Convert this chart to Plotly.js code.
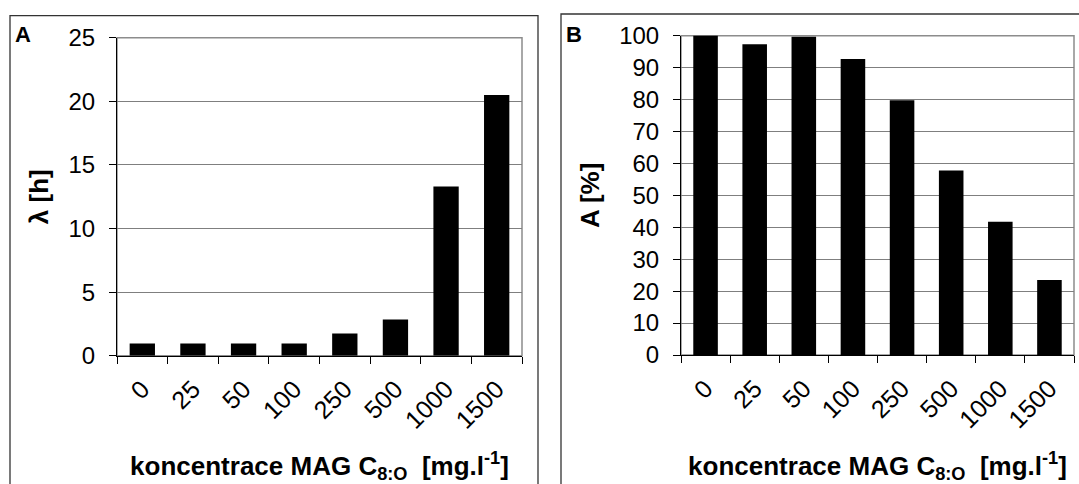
<!DOCTYPE html>
<html>
<head>
<meta charset="utf-8">
<script src="https://cdn.plot.ly/plotly-3.0.1.min.js"></script>
<style>
html,body{margin:0;padding:0;background:#fff;}
#chart{width:1079px;height:484px;}
</style>
</head>
<body>
<div id="chart"></div>
<script>
const categories = ["0", "25", "50", "100", "250", "500", "1000", "1500"];
const lagValues = [0.95, 0.95, 0.95, 0.95, 1.75, 2.85, 13.3, 20.5];
const activityValues = [100.4, 97.3, 99.7, 92.7, 79.8, 57.8, 41.7, 23.5];
const yTitleA = "λ [h]";
const yTitleB = "A [%]";
const xTitle = "koncentrace MAG C<sub>8:O</sub>&nbsp; [mg.l<sup>-1</sup>]";
const panelLabels = ["A", "B"];

const W = 1079, H = 484;
const px = v => v / W;
const py = v => 1 - v / H;

const FONT = "Liberation Sans, Arial, sans-serif";

const traces = [
  {type: "bar", x: categories, y: lagValues, xaxis: "x", yaxis: "y",
   marker: {color: "#000000", line: {width: 0}}, showlegend: false, cliponaxis: false},
  {type: "bar", x: categories, y: activityValues, xaxis: "x2", yaxis: "y2",
   marker: {color: "#000000", line: {width: 0}}, showlegend: false, cliponaxis: false}
];

function xAxis(domain) {
  return {
    domain: domain, type: "category", tickson: "boundaries",
    ticks: "outside", ticklen: 7, tickcolor: "#000", tickwidth: 1,
    showline: true, linecolor: "#000", linewidth: 1,
    showgrid: false, zeroline: false, tickangle: -45,
    ticklabelstandoff: 8,
    tickfont: {family: FONT, size: 25, color: "#000"},
    title: {text: xTitle, font: {family: FONT, size: 26, color: "#000", weight: "bold"}, standoff: 30},
    fixedrange: true, automargin: false
  };
}
function yAxis(domain, range, dtick, title, anchor) {
  return {
    domain: domain, range: range, dtick: dtick, anchor: anchor,
    ticks: "outside", ticklen: 7, tickcolor: "#000", tickwidth: 1,
    showline: true, linecolor: "#000", linewidth: 1,
    showgrid: true, gridcolor: "#7f7f7f", gridwidth: 1, zeroline: false,
    tickfont: {family: FONT, size: 24, color: "#000"},
    ticklabelstandoff: 9,
    title: {text: title, font: {family: FONT, size: 26, color: "#000", weight: "bold"}, standoff: 12},
    fixedrange: true, automargin: false
  };
}

const layout = {
  width: W, height: H,
  margin: {l: 0, r: 0, t: 0, b: 0},
  paper_bgcolor: "#ffffff", plot_bgcolor: "#ffffff",
  bargap: 0.5,
  showlegend: false,
  font: {family: FONT, color: "#000"},
  xaxis: Object.assign(xAxis([px(117), px(522)]), {anchor: "y"}),
  yaxis: yAxis([py(355.7), py(37.7)], [0, 25], 5, yTitleA, "x"),
  xaxis2: Object.assign(xAxis([px(681), px(1074)]), {anchor: "y2"}),
  yaxis2: yAxis([py(355), py(35.7)], [0, 100], 10, yTitleB, "x2"),
  shapes: [
    {type: "rect", xref: "paper", yref: "paper", x0: px(10), x1: px(538), y0: py(15.7), y1: py(500),
     line: {color: "#333333", width: 1.3}, fillcolor: "rgba(0,0,0,0)", layer: "below"},
    {type: "rect", xref: "paper", yref: "paper", x0: px(561), x1: px(1090), y0: py(14), y1: py(500),
     line: {color: "#333333", width: 1.3}, fillcolor: "rgba(0,0,0,0)", layer: "below"},
    {type: "rect", xref: "x domain", yref: "y domain", x0: 0, x1: 1, y0: 0, y1: 1,
     line: {color: "#8c8c8c", width: 1.5}, fillcolor: "rgba(0,0,0,0)", layer: "below"},
    {type: "rect", xref: "x2 domain", yref: "y2 domain", x0: 0, x1: 1, y0: 0, y1: 1,
     line: {color: "#8c8c8c", width: 1.5}, fillcolor: "rgba(0,0,0,0)", layer: "below"}
  ],
  annotations: [
    {text: panelLabels[0], xref: "paper", yref: "paper", x: px(13), y: py(34.5), xanchor: "left", yanchor: "middle",
     showarrow: false, font: {family: FONT, size: 22, color: "#000", weight: "bold"}},
    {text: panelLabels[1], xref: "paper", yref: "paper", x: px(564), y: py(34.5), xanchor: "left", yanchor: "middle",
     showarrow: false, font: {family: FONT, size: 22, color: "#000", weight: "bold"}}
  ]
};

Plotly.newPlot("chart", traces, layout, {staticPlot: true, displayModeBar: false});
</script>
</body>
</html>
